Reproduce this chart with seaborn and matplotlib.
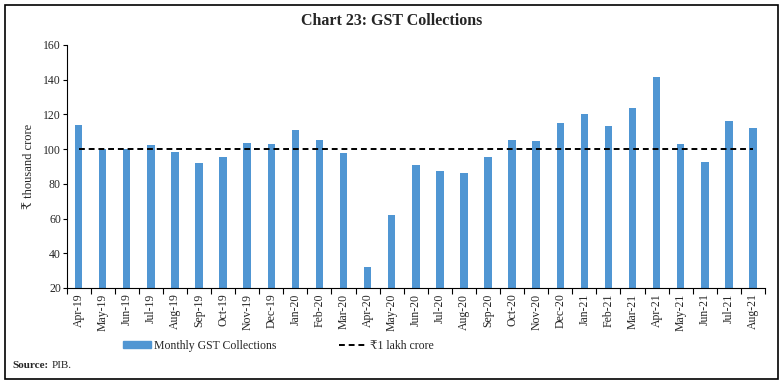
import numpy as np
import pandas as pd
import seaborn as sns
import matplotlib.pyplot as plt
from matplotlib.patches import Rectangle, Patch
from matplotlib.lines import Line2D

# data
months = ['Apr-19', 'May-19', 'Jun-19', 'Jul-19', 'Aug-19', 'Sep-19', 'Oct-19', 'Nov-19',
          'Dec-19', 'Jan-20', 'Feb-20', 'Mar-20', 'Apr-20', 'May-20', 'Jun-20', 'Jul-20',
          'Aug-20', 'Sep-20', 'Oct-20', 'Nov-20', 'Dec-20', 'Jan-21', 'Feb-21', 'Mar-21',
          'Apr-21', 'May-21', 'Jun-21', 'Jul-21', 'Aug-21']
gst = [113.9, 100.3, 99.9, 102.1, 98.2, 91.9, 95.4, 103.5, 103.2, 110.8, 105.4, 97.6,
       32.2, 62.2, 91.0, 87.4, 86.4, 95.5, 105.2, 104.9, 115.2, 120.0, 113.1, 123.9,
       141.4, 102.7, 92.8, 116.4, 112.0]
lakh = [100] * len(months)

df = pd.DataFrame({'Month': months, 'GST': gst})

sns.set_style('white')
plt.rcParams['font.family'] = ['Liberation Serif', 'DejaVu Serif', 'DejaVu Sans']

bar_col = '#5096D3'

fig = plt.figure(figsize=(7.83, 3.84), dpi=100)
ax = fig.add_axes([0.085, 0.25, 0.892, 0.633])

sns.barplot(data=df, x='Month', y='GST', color=bar_col, width=0.31, saturation=1,
            linewidth=0, ax=ax)
ax.plot(np.arange(len(months)), lakh, color='black', ls=(0, (3, 2)), lw=1.4)

ax.set_xlim(-0.5, len(months) - 0.5)
ax.set_ylim(20, 160)
ax.set_yticks(np.arange(20, 161, 20))
ax.set_xticks(np.arange(len(months)))
ax.set_xticklabels(months, rotation=90, fontsize=8.5)
ax.set_xticks(np.arange(-0.5, len(months), 1), minor=True)
ax.tick_params(axis='x', which='major', length=0, pad=4)
ax.tick_params(axis='x', which='minor', length=4, width=0.8, color='black', bottom=True)
ax.tick_params(axis='y', length=3, width=0.8, color='black', labelsize=8.5, left=True, pad=1)
ax.set_xlabel('')
ax.set_ylabel('₹ thousand crore', fontsize=9, labelpad=6)
for s in ['top', 'right']:
    ax.spines[s].set_visible(False)
for s in ['left', 'bottom']:
    ax.spines[s].set_color('black')
    ax.spines[s].set_linewidth(0.8)

fig.text(0.5, 0.945, 'Chart 23: GST Collections', ha='center', va='center',
         fontsize=11.5, fontweight='bold')

handles = [Patch(color=bar_col), Line2D([0], [0], color='black', ls=(0, (3, 2)), lw=1.4)]
fig.legend(handles, ['Monthly GST Collections', '₹1 lakh crore'], ncol=2, frameon=False,
           loc='center left', bbox_to_anchor=(0.144, 0.1), fontsize=8.5, columnspacing=5.3,
           handlelength=2.3, handleheight=0.5, handletextpad=0.3)

fig.text(0.016, 0.047, 'Source:', fontsize=8, fontweight='bold', va='center')
fig.text(0.066, 0.047, 'PIB.', fontsize=8, va='center')

fig.patches.append(Rectangle((0.006, 0.013), 0.988, 0.975, transform=fig.transFigure,
                             fill=False, edgecolor='black', lw=1.2))

fig.savefig('out.png', dpi=100)
